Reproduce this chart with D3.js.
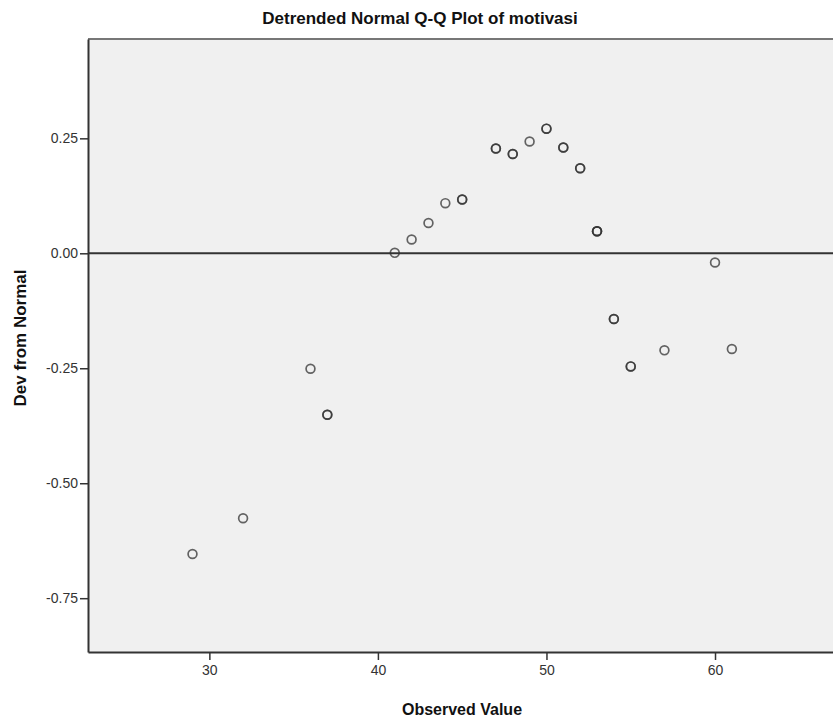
<!DOCTYPE html>
<html>
<head>
<meta charset="utf-8">
<script src="https://cdn.jsdelivr.net/npm/d3@7"></script>
<style>
  body { margin: 0; background: #fff; }
  svg text { font-family: "Liberation Sans Narrow", "Liberation Sans", Arial, sans-serif; }
  .tick text { fill: #333; font-size: 14px; }
  .tick line { stroke: #333; stroke-width: 1.5; }
</style>
</head>
<body>
<div id="chart"></div>
<script>
// observed values of motivasi and their detrended deviation
let observed = [29, 32, 36, 37, 41, 42, 43, 44, 45, 47, 48, 49, 50, 51, 52, 53, 54, 55, 57, 60, 61];
let deviation = [-0.654, -0.576, -0.251, -0.351, 0.001, 0.030, 0.066, 0.109, 0.117, 0.228, 0.216, 0.243, 0.271, 0.230, 0.185, 0.048, -0.143, -0.246, -0.211, -0.020, -0.208];
// how many cases share the value (darker rings)
let freq = [1, 1, 1, 2, 1, 1, 1, 1, 2, 2, 2, 1, 2, 2, 2, 3, 2, 2, 1, 1, 1];
let xticks = [30, 40, 50, 60];
let yticks = [0.25, 0.00, -0.25, -0.50, -0.75];

let w = 833;
let h = 727;
let m_left = 88, m_top = 39, m_bottom = 652, m_right = 833;

const svg = d3.select("#chart")
  .append("svg")
  .attr("width", w)
  .attr("height", h);

const x_scale = d3.scaleLinear()
  .domain([22.8, 67.0])
  .range([m_left, m_right]);

const y_scale = d3.scaleLinear()
  .domain([-0.867, 0.466])
  .range([m_bottom, m_top]);

// plot background
svg.append("rect")
  .attr("x", m_left)
  .attr("y", m_top)
  .attr("width", m_right - m_left)
  .attr("height", m_bottom - m_top)
  .attr("fill", "#f0f0f0");

// top frame line
svg.append("line")
  .attr("x1", m_left).attr("x2", m_right)
  .attr("y1", m_top).attr("y2", m_top)
  .attr("stroke", "#777")
  .attr("stroke-width", 2);

// zero reference line
svg.append("line")
  .attr("x1", m_left).attr("x2", m_right)
  .attr("y1", y_scale(0)).attr("y2", y_scale(0))
  .attr("stroke", "#333")
  .attr("stroke-width", 2);

svg.append("g")
  .attr("transform", `translate(${m_left}, 0)`)
  .call(d3.axisLeft(y_scale)
    .tickValues(yticks)
    .tickFormat(d => d.toFixed(2))
    .tickSize(8)
    .tickSizeOuter(0)
    .tickPadding(2))
  .call(g => g.select(".domain").attr("stroke", "#333").attr("stroke-width", 2));

svg.append("g")
  .attr("transform", `translate(0, ${m_bottom})`)
  .call(d3.axisBottom(x_scale)
    .tickValues(xticks)
    .tickSize(8)
    .tickSizeOuter(0)
    .tickPadding(5))
  .call(g => g.select(".domain").attr("stroke", "#333").attr("stroke-width", 2));

svg.selectAll(".tick text").attr("font-family", null);

// points, drawn once per tied case
let pts = [];
observed.forEach((d, i) => {
  for (let k = 0; k < freq[i]; k++) pts.push({x: d, y: deviation[i]});
});

svg.selectAll("circle.pt")
  .data(pts)
  .enter()
  .append("circle")
  .attr("class", "pt")
  .attr("cx", d => x_scale(d.x))
  .attr("cy", d => y_scale(d.y))
  .attr("r", 4.4)
  .attr("fill", "none")
  .attr("stroke", "#333")
  .attr("stroke-opacity", 0.75)
  .attr("stroke-width", 1.7);

svg.append("text")
  .attr("x", 420)
  .attr("y", 24)
  .attr("text-anchor", "middle")
  .attr("font-size", 17)
  .attr("font-weight", "bold")
  .attr("fill", "#111")
  .text("Detrended Normal Q-Q Plot of motivasi");

svg.append("text")
  .attr("x", 462)
  .attr("y", 715)
  .attr("text-anchor", "middle")
  .attr("font-size", 16)
  .attr("font-weight", "bold")
  .attr("fill", "#111")
  .text("Observed Value");

svg.append("text")
  .attr("transform", "translate(26, 338) rotate(-90)")
  .attr("text-anchor", "middle")
  .attr("font-size", 17)
  .attr("font-weight", "bold")
  .attr("fill", "#111")
  .text("Dev from Normal");
</script>
</body>
</html>
